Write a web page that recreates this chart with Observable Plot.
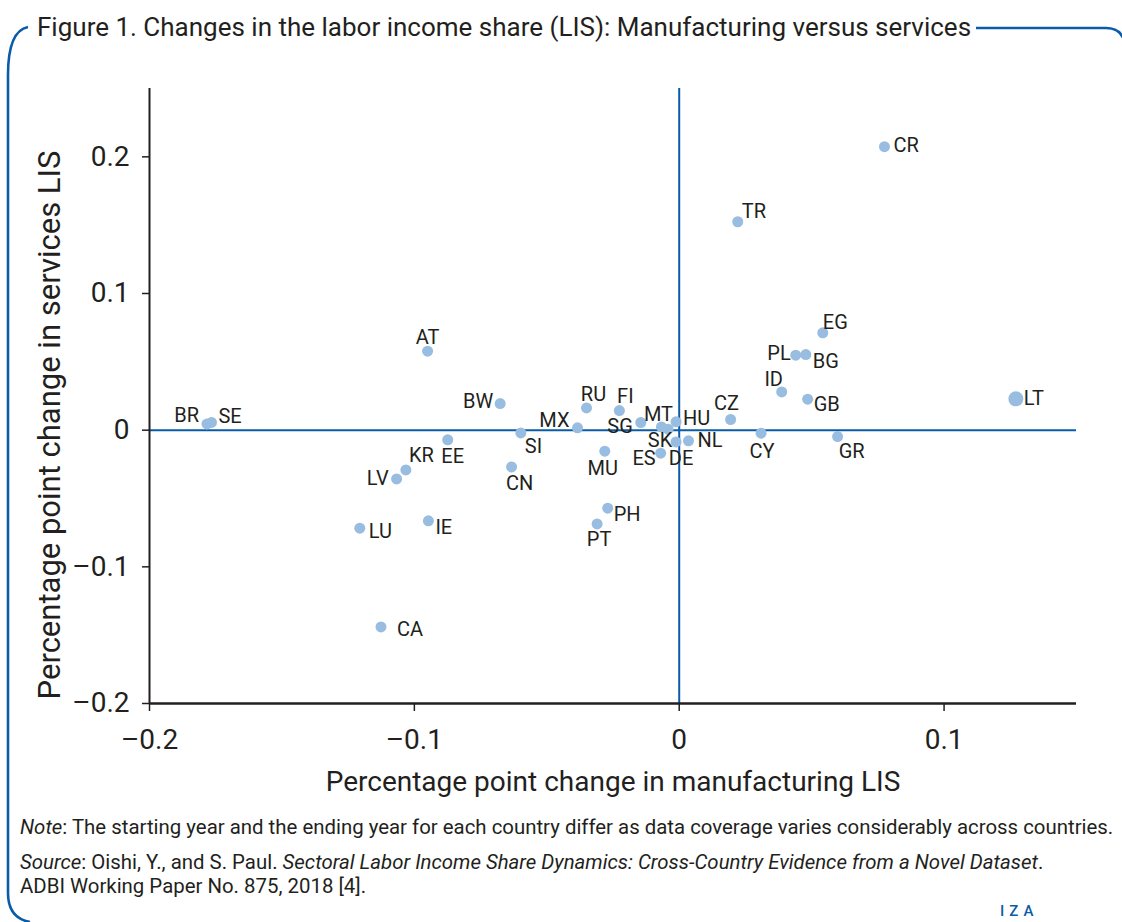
<!DOCTYPE html>
<html>
<head>
<meta charset="utf-8">
<script src="https://cdn.jsdelivr.net/npm/d3@7"></script>
<script src="https://cdn.jsdelivr.net/npm/@observablehq/plot@0.6"></script>
<style>
  html, body { margin: 0; padding: 0; background: #fff; }
  #wrap { position: relative; width: 1122px; height: 922px; overflow: hidden; font-family: Roboto, "Open Sans", sans-serif; color: #231f20; }
  #chart { position: absolute; left: 0; top: 0; }
  .txt { position: absolute; white-space: nowrap; line-height: 1; }
  #title { left: 37px; top: 14px; font-size: 26px; }
  .note { left: 20px; font-size: 20.4px; }
  #border { position: absolute; left: 0; top: 0; }
  #iza { left: 1000px; top: 904px; font-size: 15px; color: #0a5ca8; letter-spacing: 5px; font-weight: 500; }
</style>
</head>
<body>
<div id="wrap">
  <div id="chart"></div>
  <svg id="border" width="1122" height="922">
    <path d="M 28,27 Q 8,31 8,75 L 8,893 Q 8,918 30,922" fill="none" stroke="#0a5ca8" stroke-width="2.6"/>
    <path d="M 976,28 L 1106,28 Q 1120,28 1124,40" fill="none" stroke="#0a5ca8" stroke-width="2.6"/>
  </svg>
  <div id="title" class="txt">Figure 1. Changes in the labor income share (LIS): Manufacturing versus services</div>
  <div class="txt note" style="top:817px"><i>Note</i>: The starting year and the ending year for each country differ as data coverage varies considerably across countries.</div>
  <div class="txt note" style="top:852px"><i>Source</i>: Oishi, Y., and S. Paul. <i>Sectoral Labor Income Share Dynamics: Cross-Country Evidence from a Novel Dataset</i>.</div>
  <div class="txt note" style="top:876px">ADBI Working Paper No. 875, 2018 [4].</div>
  <div id="iza" class="txt">IZA</div>
</div>
<script>
// ---- data ----
const countries = ["BR","SE","AT","BW","EE","SI","CN","KR","LV","LU","IE","CA","RU","FI","MX","SG","MT","SK","HU","DE","NL","ES","MU","CZ","CY","ID","EG","PL","BG","GB","LT","GR","PH","PT","CR","TR"];
const manufacturing = [-0.1783,-0.1766,-0.0950,-0.0676,-0.0874,-0.0598,-0.0633,-0.1032,-0.1067,-0.1206,-0.0947,-0.1126,-0.0350,-0.0226,-0.0384,-0.0145,-0.0067,-0.0042,-0.0012,-0.0012,0.0035,-0.0070,-0.0281,0.0194,0.0309,0.0387,0.0542,0.0440,0.0478,0.0485,0.1271,0.0598,-0.0270,-0.0310,0.0775,0.0221];
const services = [0.0046,0.0057,0.0578,0.0195,-0.0071,-0.0020,-0.0269,-0.0291,-0.0357,-0.0717,-0.0663,-0.1440,0.0163,0.0143,0.0017,0.0056,0.0024,0.0007,0.0061,-0.0086,-0.0078,-0.0168,-0.0154,0.0078,-0.0022,0.0280,0.0712,0.0549,0.0553,0.0227,0.0229,-0.0047,-0.0571,-0.0686,0.2074,0.1525];
const highlighted = ["LT"];
const xTicks = [-0.2, -0.1, 0, 0.1];
const yTicks = [-0.2, -0.1, 0, 0.1, 0.2];
const xLabel = "Percentage point change in manufacturing LIS";
const yLabel = "Percentage point change in services LIS";

// ---- label placement (pixel nudges: dx, dy, anchor) ----
const labelPlace = {
  BR:[-8,-8,"end"], SE:[7,-6,"start"], AT:[0,-14,"middle"], BW:[-7,-2,"end"], EE:[5,17,"middle"],
  SI:[4,14,"start"], CN:[8,17,"middle"], KR:[3,-14,"start"], LV:[-8,0,"end"], LU:[9,3,"start"],
  IE:[7,7,"start"], CA:[16,3,"start"], RU:[7,-13,"middle"], FI:[6,-14,"middle"], MX:[-8,-7,"end"],
  SG:[-8,4,"end"], MT:[-3,-12,"middle"], SK:[-8,11,"middle"], HU:[7,-3,"start"], DE:[5,17,"middle"],
  NL:[9,0,"start"], ES:[-5,5,"end"], MU:[-2,17,"middle"], CZ:[-4,-16,"middle"], CY:[1,18,"middle"],
  ID:[-8,-12,"middle"], EG:[0,-10,"start"], PL:[-5,-2,"end"], BG:[7,7,"start"], GB:[6,5,"start"],
  LT:[8,0,"start"], GR:[14,15,"middle"], PH:[6,6,"start"], PT:[2,16,"middle"], CR:[9,-1,"start"], TR:[4,-10,"start"]
};

const rows = countries.map((c, i) => ({c, x: manufacturing[i], y: services[i], big: highlighted.includes(c)}));
const fmt = d => d === 0 ? "0" : (d < 0 ? "\u2013" : "") + Math.abs(d).toFixed(1);

const ink = "#231f20";
const blue = "#0a5ca8";
const dotFill = "#98bde0";

const labelMarks = rows.map(r => {
  const [dx, dy, anchor] = labelPlace[r.c];
  return Plot.text([r], {x: "x", y: "y", text: "c", dx, dy, textAnchor: anchor, fontSize: 20, fill: ink});
});

const chart = Plot.plot({
  width: 1122,
  height: 800,
  marginLeft: 149,
  marginRight: 46,
  marginTop: 88,
  marginBottom: 97,
  style: {fontFamily: "Roboto, 'Open Sans', sans-serif", background: "transparent", color: ink},
  x: {domain: [-0.2, 0.15]},
  y: {domain: [-0.2, 0.25]},
  marks: [
    Plot.ruleX([0], {stroke: blue, strokeWidth: 2}),
    Plot.ruleY([0], {stroke: blue, strokeWidth: 2}),
    Plot.ruleX([-0.2], {stroke: ink, strokeWidth: 2}),
    Plot.ruleY([-0.2], {stroke: ink, strokeWidth: 2.6}),
    Plot.axisX({ticks: xTicks, tickFormat: fmt, tickSize: 8, tickPadding: 18, fontSize: 28, label: null, stroke: ink, strokeWidth: 1.5}),
    Plot.axisY({ticks: yTicks, tickFormat: fmt, tickSize: 7, tickPadding: 13, fontSize: 28, label: null, stroke: ink, strokeWidth: 1.5}),
    Plot.text([xLabel], {frameAnchor: "bottom", textAnchor: "middle", lineAnchor: "bottom", dy: 87, fontSize: 28, fill: ink}),
    Plot.text([yLabel], {frameAnchor: "left", textAnchor: "middle", lineAnchor: "middle", rotate: -90, dx: -99, dy: 29, fontSize: 31, fill: ink}),
    Plot.dot(rows.filter(d => !d.big), {x: "x", y: "y", r: 5.5, fill: dotFill, stroke: "none"}),
    Plot.dot(rows.filter(d => d.big), {x: "x", y: "y", r: 7.5, fill: dotFill, stroke: "none"}),
    ...labelMarks
  ]
});
document.getElementById("chart").appendChild(chart);
</script>
</body>
</html>
